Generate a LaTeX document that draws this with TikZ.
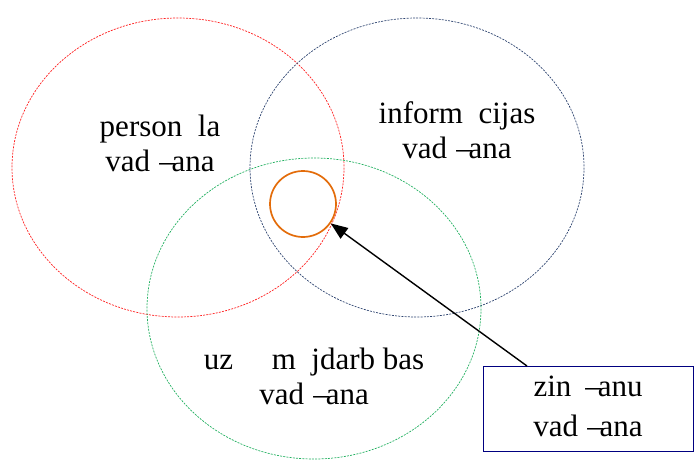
\documentclass[tikz,border=0pt]{standalone}
\usepackage{fontspec}
\setmainfont{Liberation Serif}
\usetikzlibrary{arrows.meta}
\definecolor{setred}{HTML}{FF2020}
\definecolor{setnavy}{HTML}{2E4470}
\definecolor{setgreen}{HTML}{22B060}
\definecolor{ringorange}{HTML}{E36C0A}
\definecolor{boxnavy}{HTML}{000080}
\tikzset{
  setline/.style={line width=0.7pt, dash pattern=on 2pt off 1.2pt},
  label/.style={align=center, font=\fontsize{31}{35}\selectfont, inner sep=0pt},
  boxlabel/.style={align=center, font=\fontsize{31}{40}\selectfont, inner sep=0pt},
}
\newcommand{\gapw}[1]{\hspace{#1}}
\newcommand{\shdash}{\kern0.05em–\kern-0.1em}
\begin{document}
\begin{tikzpicture}[x=1pt, y=-1pt]
  \useasboundingbox (0,0) rectangle (695,461);
  % three overlapping sets
  \draw[setline, setred]   (178,167.5) ellipse [x radius=166, y radius=149.5];
  \draw[setline, setnavy]  (417,167.5) ellipse [x radius=167, y radius=149.5];
  \draw[setline, setgreen] (314,308.5) ellipse [x radius=167, y radius=150.5];
  % common intersection
  \node[draw=ringorange, line width=1.7pt, circle, minimum size=66pt, inner sep=0pt] (core) at (303,204) {};
  % set labels
  \node[label] (pers) at (160,143) {person\gapw{0.5em}la\\vad\gapw{0.25em}\shdash ana};
  \node[label] (info) at (457,130) {inform\gapw{0.5em}cijas\\vad\gapw{0.25em}\shdash ana};
  \node[label] (biz)  at (314,376) {uz\gapw{1.25em}m\gapw{0.5em}jdarb\gapw{0.25em}bas\\vad\gapw{0.25em}\shdash ana};
  % callout box
  \node[draw=boxnavy, line width=1pt, minimum width=210pt, minimum height=85pt, inner sep=0pt] (know) at (588,409) {};
  \node[boxlabel] (knowtext) at (588,406) {zin\gapw{0.4em}\shdash anu\\vad\gapw{0.25em}\shdash ana};
  \coordinate (tail) at (527,366);
  \draw[line width=1.4pt, -{Triangle[length=17pt, width=13pt]}] (tail) -- (core.-35);
\end{tikzpicture}
\end{document}
